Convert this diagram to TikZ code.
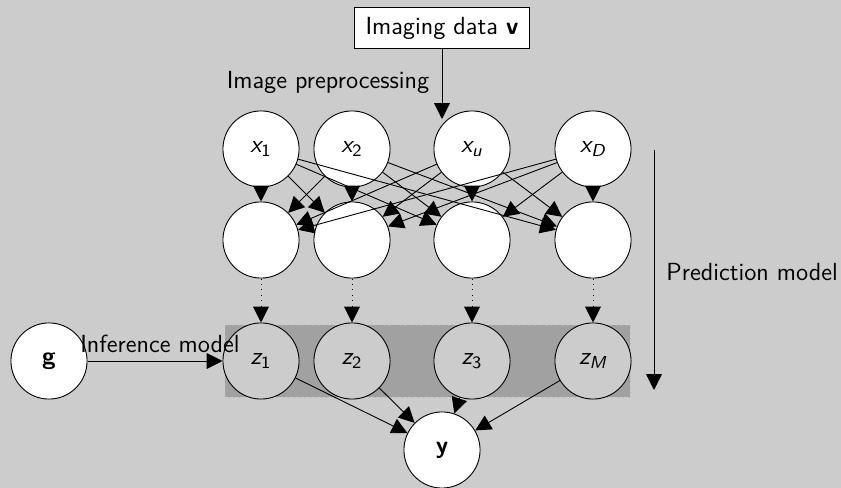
\documentclass[tikz,border=0pt]{standalone}
\usepackage{amsmath}
\usetikzlibrary{arrows.meta,positioning}

\begin{document}
\begin{tikzpicture}[x=0.444pt,y=-0.444pt,font=\fontsize{11}{13}\sffamily,
  unit/.style={circle,draw,fill=white,minimum size=33.8pt},
  latent/.style={unit,fill=black!20},
  link/.style={-{Triangle[length=7pt,width=7pt]}},
  softlink/.style={link,dotted}]
\tikzstyle{every node}+=[inner sep=0pt]
\fill [black!20] (0,0) rectangle (841,488);
\useasboundingbox (0,0) rectangle (841,488);
% shaded latent block
\draw [black!30,dotted,fill=black!37] (225,325) rectangle (630,397);
\node [draw,fill=white,minimum width=78pt,minimum height=18.6pt] (data) at (442,28) {Imaging data \textbf{v}};
\node (prep) at (328,82) {Image preprocessing};
\node [unit] (x1) at (261,149) {$\textit{x}_{\textup{1}}$};
\node [unit] (x2) at (352,149) {$\textit{x}_{\textup{2}}$};
\node [unit] (xu) at (472,149) {$\textit{x}_{\textit{u}}$};
\node [unit] (xD) at (593,149) {$\textit{x}_{\textit{D}}$};
\node [unit] (h1) at (261,240) {};
\node [unit] (h2) at (352,240) {};
\node [unit] (h3) at (472,240) {};
\node [unit] (h4) at (593,240) {};
\node [latent] (z1) at (261,361) {$\textit{z}_{\textup{1}}$};
\node [latent] (z2) at (352,361) {$\textit{z}_{\textup{2}}$};
\node [latent] (z3) at (472,361) {$\textit{z}_{\textup{3}}$};
\node [latent] (zM) at (593,361) {$\textit{z}_{\textit{M}}$};
\node [unit] (g) at (49,361) {\textbf{g}};
\node [unit] (y) at (442,450) {\textbf{y}};
\node (infer) at (160,344) {Inference model};
\coordinate (xin) at (442,119);
\coordinate (ptop) at (654,150);
\coordinate (pbot) at (654,390);
\node [anchor=west] (pred) at (666,272) {Prediction model};
\draw [link] (data) -- (xin);
% fully connected first layer
\draw [link] (x1) -- (h1);
\draw [link] (x1) -- (h2);
\draw [link] (x1) -- (h3);
\draw [link] (x1) -- (h4);
\draw [link] (x2) -- (h1);
\draw [link] (x2) -- (h2);
\draw [link] (x2) -- (h3);
\draw [link] (x2) -- (h4);
\draw [link] (xu) -- (h1);
\draw [link] (xu) -- (h2);
\draw [link] (xu) -- (h3);
\draw [link] (xu) -- (h4);
\draw [link] (xD) -- (h1);
\draw [link] (xD) -- (h2);
\draw [link] (xD) -- (h3);
\draw [link] (xD) -- (h4);
\draw [softlink] (h1) -- (z1);
\draw [softlink] (h2) -- (z2);
\draw [softlink] (h3) -- (z3);
\draw [softlink] (h4) -- (zM);
\draw [link] (z1) -- (y);
\draw [link] (z2) -- (y);
\draw [link] (z3) -- (y);
\draw [link] (zM) -- (y);
\draw [link] (g) -- (z1);
\draw [link] (ptop) -- (pbot);
\end{tikzpicture}
\end{document}
